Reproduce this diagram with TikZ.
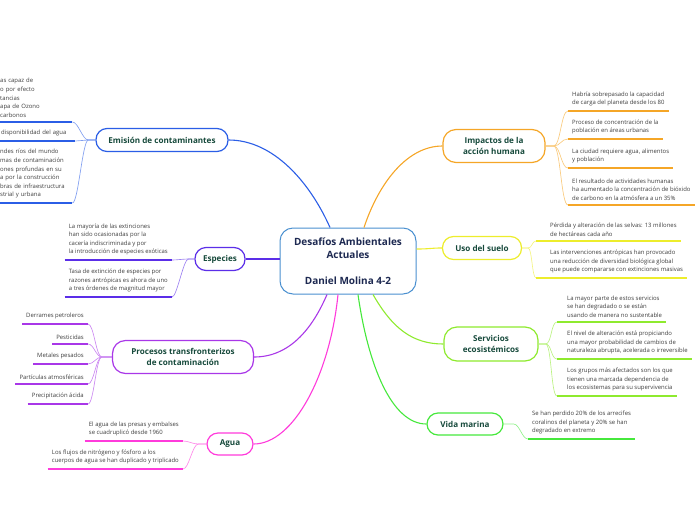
\documentclass[tikz,border=0pt]{standalone}
\usepackage{fontspec}
\setmainfont{Open Sans}
\definecolor{centreline}{HTML}{4A90D0}
\definecolor{centretext}{HTML}{1D2951}
\definecolor{topictext}{HTML}{174A3C}
\definecolor{leaftext}{HTML}{3C3C3C}
\definecolor{emisc}{HTML}{2B5EE6}
\definecolor{espc}{HTML}{5B2EE8}
\definecolor{procc}{HTML}{A937E8}
\definecolor{aguac}{HTML}{FF3BDB}
\definecolor{impc}{HTML}{F5A627}
\definecolor{usoc}{HTML}{EDED2C}
\definecolor{servc}{HTML}{8EEA2E}
\definecolor{vidac}{HTML}{46E83C}
\tikzset{
  centre/.style={draw=centreline, line width=1pt, rounded corners=13pt, fill=white, minimum width=136pt, minimum height=66pt, align=center, text=centretext, font=\fontsize{10}{13}\selectfont\bfseries},
  topic/.style={draw=#1, line width=1.2pt, rounded corners=11pt, fill=white, minimum height=23pt, inner sep=0pt, align=center, text=topictext, font=\fontsize{8.1}{11}\selectfont\bfseries},
  leafl/.style={anchor=south west, inner xsep=4pt, inner ysep=4.5pt, align=left, text=leaftext, font=\fontsize{5.95}{8.6}\selectfont},
  leafr/.style={leafl, anchor=south east},
  conn/.style={draw=#1, line width=1.1pt},
  twig/.style={draw=#1!60, line width=0.65pt},
  uline/.style={draw=#1, line width=1.6pt}
}
\begin{document}
\begin{tikzpicture}[x=1pt, y=-1pt]
\useasboundingbox (0,0) rectangle (696,520);

% centro
\node[centre] (c) at (348,261) {Desafíos Ambientales\\Actuales\\[13pt]Daniel Molina 4-2};

% temas
\node[topic=emisc, minimum width=132pt] (emis) at (162,140) {Emisión de contaminantes};
\node[topic=espc, minimum width=50pt] (esp) at (220,259) {Especies};
\node[topic=procc, minimum width=141pt, minimum height=33pt, rounded corners=13pt] (proc) at (183,357) {Procesos transfronterizos\\de contaminación};
\node[topic=aguac, minimum width=46pt, minimum height=22pt] (agua) at (230,444) {Agua};
\node[topic=impc, minimum width=102pt, minimum height=33pt, rounded corners=13pt] (imp) at (494,146) {Impactos de la\\acción humana};
\node[topic=usoc, minimum width=79pt] (uso) at (482,248) {Uso del suelo};
\node[topic=servc, minimum width=94pt, minimum height=34pt, rounded corners=13pt] (serv) at (491,344) {Servicios\\ecosistémicos};
\node[topic=vidac, minimum width=76pt, minimum height=22pt] (vida) at (465,424) {Vida marina};

\draw[conn=emisc] ([xshift=-18pt]c.north) .. controls +(-20,-45) and +(45,0) .. (emis.east);
\draw[conn=impc] ([xshift=16pt]c.north) .. controls +(15,-45) and +(-35,0) .. (imp.west);
\draw[conn=usoc] ([yshift=12pt]c.east) .. controls +(14,0) and +(-12,0) .. (uso.west);
\draw[conn=espc] ([yshift=2pt]c.west) -- (esp.east);
\draw[conn=procc] ([xshift=-21pt]c.south) .. controls +(-15,35) and +(35,0) .. (proc.east);
\draw[conn=aguac] ([xshift=-10pt]c.south) .. controls +(-8,80) and +(40,0) .. (agua.east);
\draw[conn=vidac] ([xshift=10pt]c.south) .. controls +(10,70) and +(-35,0) .. (vida.west);
\draw[conn=servc] ([xshift=25pt]c.south) .. controls +(20,35) and +(-30,0) .. (serv.west);

% Emisión de contaminantes
\node[leafl, text width=68pt] (e1) at (-4,122) {as capaz de\\o por efecto\\tancias\\apa de Ozono\\carbonos};
\node[leafl, text width=70pt] (e2) at (-3,141) {disponibilidad del agua};
\node[leafl, text width=68pt] (e3) at (-4,203) {ndes ríos del mundo\\mas de contaminación\\ones profundas en su\\a por la construcción\\bras de infraestructura\\strial y urbana};
\foreach \n in {e1,e2,e3} {
  \draw[twig=emisc] (emis.west) -- ++(-7,0) .. controls +(-6,0) and +(6,0) .. (\n.south east);
  \draw[uline=emisc] (\n.south west) -- (\n.south east);
}

% Especies
\node[leafr] (s1) at (172,260) {La mayoría de las extinciones\\han sido ocasionadas por la\\cacería indiscriminada y por\\la introducción de especies exóticas};
\node[leafr] (s2) at (172,297) {Tasa de extinción de especies por\\razones antrópicas es ahora de uno\\a tres órdenes de magnitud mayor};
\foreach \n in {s1,s2} {
  \draw[twig=espc] (esp.west) -- ++(-6,0) .. controls +(-5,0) and +(5,0) .. (\n.south east);
  \draw[uline=espc] (\n.south west) -- (\n.south east);
}

% Procesos transfronterizos
\node[leafr] (p1) at (88,324) {Derrames petroleros};
\node[leafr] (p2) at (88,344) {Pesticidas};
\node[leafr] (p3) at (88,364) {Metales pesados};
\node[leafr] (p4) at (88,384) {Partículas atmosféricas};
\node[leafr] (p5) at (88,404) {Precipitación ácida};
\foreach \n in {p1,p2,p3,p4,p5} {
  \draw[twig=procc] (proc.west) -- ++(-10,0) .. controls +(-6,0) and +(6,0) .. (\n.south east);
  \draw[uline=procc] (\n.south west) -- (\n.south east);
}

% Agua
\node[leafr] (a1) at (183,441) {El agua de las presas y embalses\\se cuadruplicó desde 1960};
\node[leafr] (a2) at (183,469) {Los flujos de nitrógeno y fósforo a los\\cuerpos de agua se han duplicado y triplicado};
\foreach \n in {a1,a2} {
  \draw[twig=aguac] (agua.west) -- ++(-8,0) .. controls +(-6,0) and +(6,0) .. (\n.south east);
  \draw[uline=aguac] (\n.south west) -- (\n.south east);
}

% Impactos de la acción humana
\node[leafl] (i1) at (568,111) {Habría sobrepasado la capacidad\\de carga del planeta desde los 80};
\node[leafl] (i2) at (568,139) {Proceso de concentración de la\\población en áreas urbanas};
\node[leafl] (i3) at (568,168) {La ciudad requiere agua, alimentos\\y población};
\node[leafl] (i4) at (568,205) {El resultado de actividades humanas\\ha aumentado la concentración de bióxido\\de carbono en la atmósfera a un 35\%};
\foreach \n in {i1,i2,i3,i4} {
  \draw[twig=impc] (imp.east) -- ++(8,0) .. controls +(7,0) and +(-7,0) .. (\n.south west);
  \draw[uline=impc] (\n.south west) -- (\n.south east);
}

% Uso del suelo
\node[leafl] (u1) at (546,241) {Pérdida y alteración de las selvas: 13 millones\\de hectáreas cada año};
\node[leafl] (u2) at (546,278) {Las intervenciones antrópicas han provocado\\una reducción de diversidad biológica global\\que puede compararse con extinciones masivas};
\foreach \n in {u1,u2} {
  \draw[twig=usoc] (uso.east) -- ++(6,0) .. controls +(4,0) and +(-4,0) .. ([xshift=-10pt]\n.south west);
  \draw[uline=usoc] ([xshift=-10pt]\n.south west) -- (\n.south east);
}

% Servicios ecosistémicos
\node[leafl] (v1) at (563,322) {La mayor parte de estos servicios\\se han degradado o se están\\usando de manera no sustentable};
\node[leafl] (v2) at (563,359) {El nivel de alteración está propiciando\\una mayor probabilidad de cambios de\\naturaleza abrupta, acelerada o irreversible};
\node[leafl] (v3) at (563,396) {Los grupos más afectados son los que\\tienen una marcada dependencia de\\los ecosistemas para su supervivencia};
\foreach \n in {v1,v2,v3} {
  \draw[twig=servc] (serv.east) -- ++(7,0) .. controls +(6,0) and +(-6,0) .. ([xshift=-6pt]\n.south west);
  \draw[uline=servc] ([xshift=-6pt]\n.south west) -- (\n.south east);
}

% Vida marina
\node[leafl] (m1) at (528,439) {Se han perdido 20\% de los arrecifes\\coralinos del planeta y 20\% se han\\degradado en extremo};
\draw[twig=vidac] (vida.east) -- ++(10,0) .. controls +(6,0) and +(-6,0) .. (m1.south west);
\draw[uline=vidac] (m1.south west) -- (m1.south east);
\end{tikzpicture}
\end{document}
